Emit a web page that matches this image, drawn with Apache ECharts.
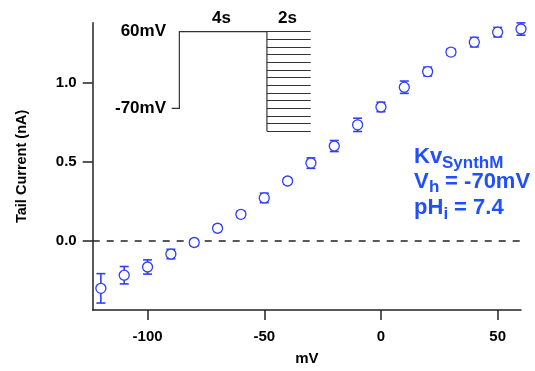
<!DOCTYPE html>
<html>
<head>
<meta charset="utf-8">
<script src="https://cdn.jsdelivr.net/npm/echarts@6/dist/echarts.min.js"></script>
<style>
    html, body { margin: 0; padding: 0; background: #fff; }
    #chart { width: 535px; height: 371px; }
</style>
</head>
<body>
<div id="chart"></div>
<script>
    // tail current vs voltage
    let voltages = [-120, -110, -100, -90, -80, -70, -60, -50, -40, -30, -20, -10, 0, 10, 20, 30, 40, 50, 60]
    let tailCurrent = [-0.30, -0.217, -0.165, -0.083, -0.01, 0.08, 0.168, 0.272, 0.379, 0.492, 0.60, 0.734, 0.847, 0.972, 1.071, 1.194, 1.257, 1.32, 1.34]
    let tailErr = [0.093, 0.055, 0.045, 0.03, 0.02, 0.02, 0.02, 0.03, 0.02, 0.033, 0.035, 0.042, 0.03, 0.039, 0.028, 0.02, 0.03, 0.03, 0.039]

    let xTicks = [-100, -50, 0, 50]
    let yTicks = [0, 0.5, 1.0]

    // voltage protocol in the inset (s, mV)
    let protoTime = [0, 0.35, 0.35, 4.35, 4.35]
    let protoVolt = [-70, -70, 60, 60, -109]
    let tailLevels = [60, 47, 34, 21, 8, -5, -18, -31, -44, -57, -70, -83, -96, -109]
    let tailStart = 4.35
    let tailEnd = 6.35

    let font = 'Liberation Sans'
    let blue = '#2f3ff5'
    let textBlue = '#1f4fff'

    let points = voltages.map((v, i) => [v, tailCurrent[i]])
    let errData = voltages.map((v, i) => [v, tailCurrent[i] - tailErr[i], tailCurrent[i] + tailErr[i]])

    let option = {
        animation: false,
        grid: [{
            left: 92.7,
            right: 14,
            top: 22.7,
            bottom: 58.7
        }, {
            left: 171.7,
            top: 31.7,
            width: 139,
            height: 100.2
        }],
        xAxis: [{
            type: 'value',
            min: -123.5,
            max: 60,
            name: 'mV',
            nameLocation: 'middle',
            nameGap: 41,
            nameTextStyle: {fontFamily: font, fontWeight: 'bold', fontSize: 15, color: '#000'},
            axisLine: {show: true, onZero: false, lineStyle: {color: '#222', width: 1.5}},
            axisTick: {show: true, length: 10, lineStyle: {color: '#222', width: 1.5}, customValues: xTicks},
            axisLabel: {
                customValues: xTicks,
                margin: 19,
                fontFamily: font, fontWeight: 'bold', fontSize: 15, color: '#000',
                formatter: v => String(v)
            },
            splitLine: {show: false}
        }, {
            gridIndex: 1,
            type: 'value',
            min: 0,
            max: tailEnd,
            show: false
        }],
        yAxis: [{
            type: 'value',
            min: -0.437,
            max: 1.38,
            name: 'Tail Current (nA)',
            nameLocation: 'middle',
            nameGap: 63,
            nameTextStyle: {fontFamily: font, fontWeight: 'bold', fontSize: 14.5, color: '#000'},
            axisLine: {show: true, onZero: false, lineStyle: {color: '#222', width: 1.5}},
            axisTick: {show: true, length: 10, lineStyle: {color: '#222', width: 1.5}, customValues: yTicks},
            axisLabel: {
                customValues: yTicks,
                margin: 16,
                fontFamily: font, fontWeight: 'bold', fontSize: 15, color: '#000',
                formatter: v => v.toFixed(1)
            },
            splitLine: {show: false}
        }, {
            gridIndex: 1,
            type: 'value',
            min: -110,
            max: 60,
            show: false
        }],
        series: [{
            type: 'lines',
            coordinateSystem: 'cartesian2d',
            xAxisIndex: 1,
            yAxisIndex: 1,
            polyline: true,
            silent: true,
            lineStyle: {color: '#333', width: 1.2, opacity: 1},
            data: [{coords: protoTime.map((t, i) => [t, protoVolt[i]])}]
        }, {
            type: 'lines',
            coordinateSystem: 'cartesian2d',
            xAxisIndex: 1,
            yAxisIndex: 1,
            silent: true,
            lineStyle: {color: '#333', width: 1.2, opacity: 1},
            data: tailLevels.map(v => ({coords: [[tailStart, v], [tailEnd, v]]}))
        }, {
            type: 'custom',
            silent: true,
            z: 1,
            data: errData,
            renderItem: function (params, api) {
                let x = api.coord([api.value(0), 0])[0]
                let lo = api.coord([api.value(0), api.value(1)])[1]
                let hi = api.coord([api.value(0), api.value(2)])[1]
                let w = 4.5
                let style = {stroke: blue, lineWidth: 1.6}
                return {
                    type: 'group',
                    children: [
                        {type: 'line', shape: {x1: x, y1: lo, x2: x, y2: hi}, style: style},
                        {type: 'line', shape: {x1: x - w, y1: lo, x2: x + w, y2: lo}, style: style},
                        {type: 'line', shape: {x1: x - w, y1: hi, x2: x + w, y2: hi}, style: style}
                    ]
                }
            }
        }, {
            type: 'scatter',
            z: 5,
            data: points,
            symbol: 'circle',
            symbolSize: 10,
            clip: false,
            itemStyle: {color: '#ffffff', opacity: 1, borderColor: blue, borderWidth: 1.3},
            markLine: {
                silent: true,
                symbol: 'none',
                z: 0,
                label: {show: false},
                lineStyle: {color: '#222', type: [7, 7], width: 1.5},
                data: [{yAxis: 0}]
            }
        }],
        graphic: [
            {type: 'text', right: 535 - 166, top: 23, style: {text: '60mV', font: 'bold 17px ' + font, fill: '#000'}},
            {type: 'text', right: 535 - 166, top: 99.5, style: {text: '-70mV', font: 'bold 17px ' + font, fill: '#000'}},
            {type: 'text', left: 212, top: 10, style: {text: '4s', font: 'bold 17px ' + font, fill: '#000'}},
            {type: 'text', left: 278, top: 10, style: {text: '2s', font: 'bold 17px ' + font, fill: '#000'}},

            {type: 'text', left: 414, top: 146, style: {text: 'Kv', font: 'bold 22px ' + font, fill: textBlue}},
            {type: 'text', left: 442, top: 154.5, style: {text: 'SynthM', font: 'bold 17px ' + font, fill: textBlue}},
            {type: 'text', left: 414, top: 170.5, style: {text: 'V', font: 'bold 22px ' + font, fill: textBlue}},
            {type: 'text', left: 429, top: 178.5, style: {text: 'h', font: 'bold 17px ' + font, fill: textBlue}},
            {type: 'text', left: 439, top: 170.5, style: {text: ' = -70mV', font: 'bold 22px ' + font, fill: textBlue}},
            {type: 'text', left: 414, top: 197, style: {text: 'pH', font: 'bold 22px ' + font, fill: textBlue}},
            {type: 'text', left: 443.5, top: 206, style: {text: 'i', font: 'bold 17px ' + font, fill: textBlue}},
            {type: 'text', left: 448, top: 197, style: {text: ' = 7.4', font: 'bold 22px ' + font, fill: textBlue}}
        ]
    }

    let myChart = echarts.init(document.getElementById('chart'))
    myChart.setOption(option)
</script>
</body>
</html>
